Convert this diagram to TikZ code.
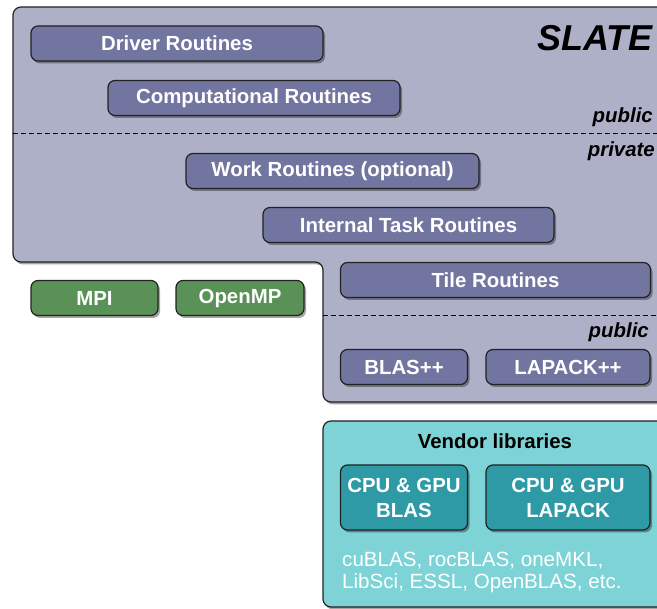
\documentclass[tikz,border=0pt]{standalone}
\usepackage{fontspec}
\setmainfont{Liberation Sans}
\usetikzlibrary{shadows}
\definecolor{slatebg}{HTML}{AEB0C8}
\definecolor{routine}{HTML}{7275A0}
\definecolor{mpigreen}{HTML}{5A9157}
\definecolor{vendbg}{HTML}{7DD3D6}
\definecolor{vendbox}{HTML}{2E9AA6}
\definecolor{edge}{HTML}{222222}
\begin{document}
\begin{tikzpicture}[x=1pt,y=-1pt,
  shad/.style={drop shadow={shadow xshift=2pt,shadow yshift=-2.5pt,opacity=0.35,fill=black}},
  txt/.style={font=\fontsize{20.4}{25}\selectfont\bfseries},
  rbox/.style={draw=edge,line width=1.2pt,rounded corners=7pt,text=white,txt,inner sep=0pt,shad,align=center},
  routinebox/.style={rbox,fill=routine},
  greenbox/.style={rbox,fill=mpigreen},
  tealbox/.style={rbox,fill=vendbox},
  region/.style={draw=edge,line width=1.2pt,rounded corners=8pt,shad},
  sep/.style={draw=black,line width=0.9pt,dash pattern=on 5pt off 3pt},
  tag/.style={txt,font=\fontsize{20.4}{22}\selectfont\bfseries\itshape,anchor=east,inner sep=0pt}]
\clip (0,0) rectangle (657,609);
\fill[white] (0,0) rectangle (657,609);
% SLATE region
\path[region,fill=slatebg] (13,7) -- (690,7) -- (690,402) -- (323,402) -- (323,262) -- (13,262) -- cycle;
% vendor region
\path[region,fill=vendbg] (323,421) rectangle (690,607);
% separators
\coordinate (s1a) at (13,133); \coordinate (s1b) at (660,133);
\coordinate (s2a) at (323,315); \coordinate (s2b) at (660,315);
\draw[sep] (s1a) -- (s1b);
\draw[sep] (s2a) -- (s2b);
% labels
\node[tag,font=\fontsize{36}{40}\selectfont\bfseries\itshape] (slate) at (653,38) {SLATE};
\node[tag] (pub1) at (653,117) {public};
\node[tag] (priv) at (655,151) {private};
\node[tag] (pub2) at (649,332) {public};
% routines
\node[routinebox,minimum width=292pt,minimum height=35pt] (drv) at (177,43.5) {Driver Routines};
\node[routinebox,minimum width=292pt,minimum height=35pt] (comp) at (254,98) {Computational Routines};
\node[routinebox,minimum width=293pt,minimum height=35pt] (work) at (332.5,171) {Work Routines (optional)};
\node[routinebox,minimum width=291pt,minimum height=35pt] (itr) at (408.5,225) {Internal Task Routines};
\node[routinebox,minimum width=310pt,minimum height=35pt] (tile) at (495.5,280) {Tile Routines};
\node[routinebox,minimum width=127pt,minimum height=35pt] (blaspp) at (404,367) {BLAS++};
\node[routinebox,minimum width=164pt,minimum height=35pt] (lapackpp) at (568,367) {LAPACK++};
% MPI/OpenMP
\node[greenbox,minimum width=127pt,minimum height=35pt] (mpi) at (94.5,298) {MPI};
\node[greenbox,minimum width=128pt,minimum height=35pt] (omp) at (240,298) {OpenMP};
% vendor
\node[txt,text=black] (vend) at (495,441.5) {Vendor libraries};
\node[tealbox,minimum width=127pt,minimum height=65pt] (cblas) at (404,497.5) {CPU \& GPU\\BLAS};
\node[tealbox,minimum width=164pt,minimum height=65pt] (clapack) at (568,497.5) {CPU \& GPU\\LAPACK};
\node[anchor=west,align=left,text=white,font=\fontsize{20.6}{22}\selectfont,inner sep=0pt] (libs) at (342,572) {cuBLAS, rocBLAS, oneMKL,\\LibSci, ESSL, OpenBLAS, etc.};
\end{tikzpicture}
\end{document}
